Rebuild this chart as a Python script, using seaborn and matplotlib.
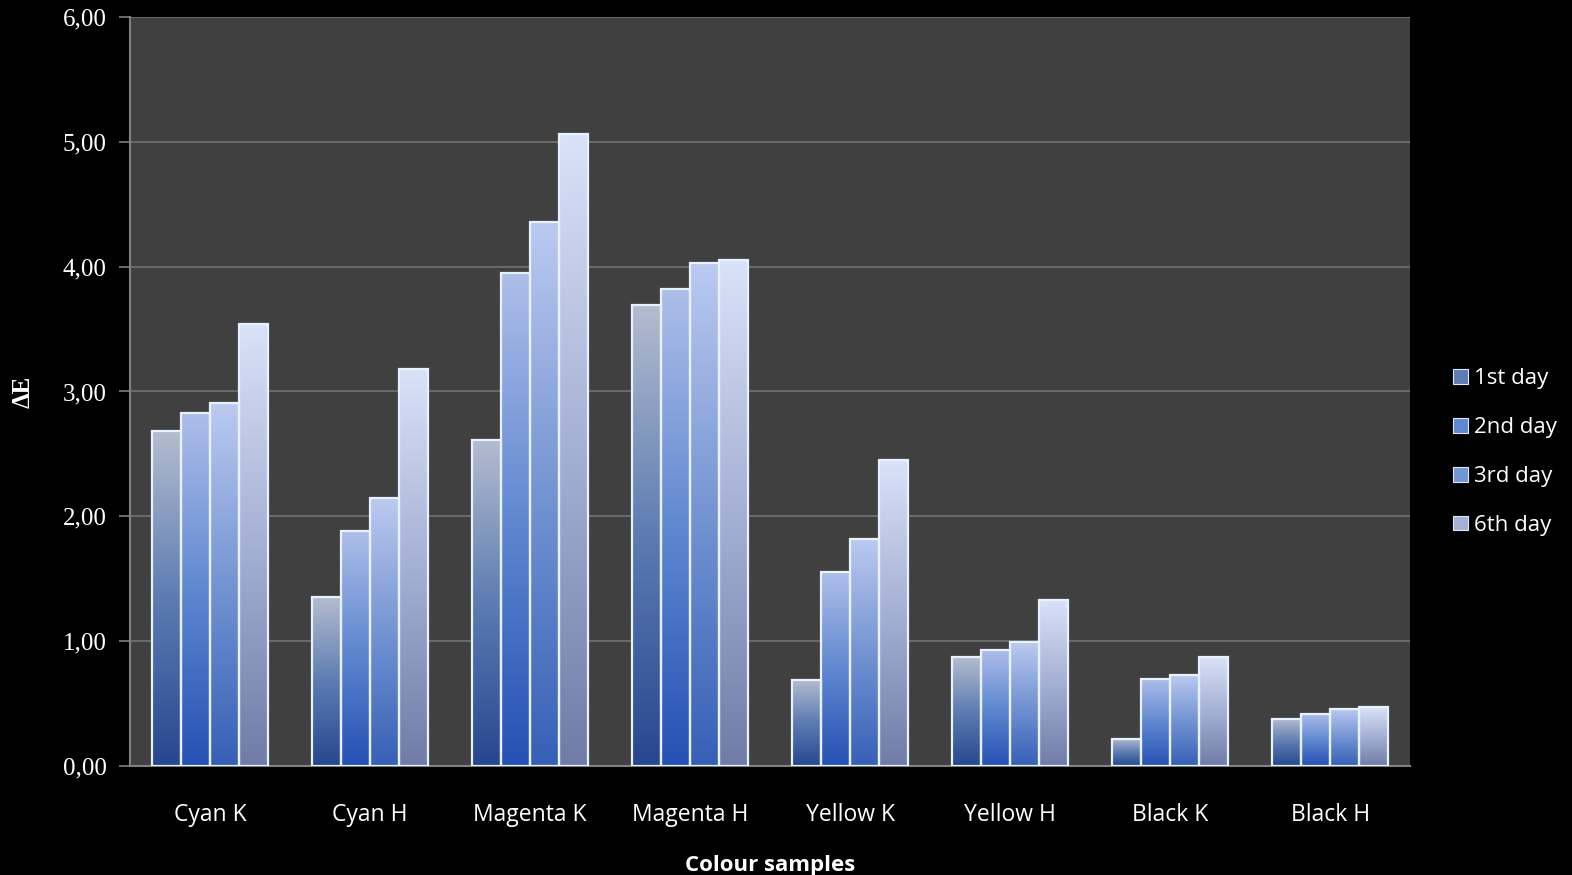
import numpy as np
import pandas as pd
import matplotlib
matplotlib.use("Agg")
import matplotlib.pyplot as plt
import seaborn as sns
from matplotlib.colors import to_rgb

samples = ["Cyan K", "Cyan H", "Magenta K", "Magenta H",
           "Yellow K", "Yellow H", "Black K", "Black H"]
days = ["1st day", "2nd day", "3rd day", "6th day"]
day1 = [2.68, 1.35, 2.61, 3.69, 0.69, 0.87, 0.22, 0.38]
day2 = [2.83, 1.88, 3.95, 3.82, 1.55, 0.93, 0.70, 0.42]
day3 = [2.91, 2.15, 4.36, 4.03, 1.82, 0.99, 0.73, 0.46]
day6 = [3.54, 3.18, 5.06, 4.05, 2.45, 1.33, 0.87, 0.47]
yticks = [0, 1, 2, 3, 4, 5, 6]
ytick_labels = ["0,00", "1,00", "2,00", "3,00", "4,00", "5,00", "6,00"]

# bottom / middle / top shades of each series' vertical gradient
gradients = {
    "1st day": ["#28468e", "#5c7cb2", "#b4bccf"],
    "2nd day": ["#2650b4", "#6088d0", "#aebeea"],
    "3rd day": ["#3660b6", "#7494d2", "#bccaf0"],
    "6th day": ["#707ca6", "#a4b0d4", "#dae2f8"],
}
palette = {d: gradients[d][1] for d in days}

df = pd.DataFrame({
    "sample": samples * 4,
    "day": np.repeat(days, len(samples)),
    "dE": day1 + day2 + day3 + day6,
})

sns.set_theme(style="dark")
plt.rcParams["font.family"] = ["Open Sans", "DejaVu Sans"]

fig = plt.figure(figsize=(15.72, 8.75), dpi=100, facecolor="black")
ax = fig.add_axes([0.0827, 0.1246, 0.8143, 0.856])
ax.set_facecolor("#404040")

sns.barplot(data=df, x="sample", y="dE", hue="day", hue_order=days,
            order=samples, palette=palette, saturation=1, width=0.73,
            ax=ax, zorder=3)


def ramp(stops, n=256):
    cols = np.array([to_rgb(c) for c in stops])
    pos = np.linspace(0, 1, len(stops))
    t = np.linspace(0, 1, n)
    return np.stack([np.interp(t, pos, cols[:, k]) for k in range(3)], axis=-1)


for day, container in zip(days, ax.containers):
    grad = ramp(gradients[day])[:, None, :]
    for bar in container.patches:
        x0 = bar.get_x()
        w = bar.get_width()
        h = bar.get_height()
        ax.imshow(grad, extent=(x0, x0 + w, 0, h), origin="lower",
                  aspect="auto", zorder=3, interpolation="bilinear")
        bar.set_facecolor("none")
        bar.set_edgecolor("#e8f2ff")
        bar.set_linewidth(1.6)
        bar.set_zorder(4)

ax.set_xlim(-0.5, len(samples) - 0.5)
ax.set_ylim(0, 6)
ax.set_yticks(yticks)
ax.set_yticklabels(ytick_labels, family=["Liberation Serif", "DejaVu Serif"],
                   fontsize=18, color="white")
ax.tick_params(axis="y", length=8, width=1.2, color="#808080", pad=9,
               left=True)
ax.tick_params(axis="x", length=0, pad=27, labelsize=16.5, labelcolor="white")

ax.grid(False)
ax.yaxis.grid(True, color="#6e6e6e", linewidth=1.3, zorder=1)
ax.set_axisbelow(True)
for side in ["top", "right"]:
    ax.spines[side].set_visible(False)
for side in ["left", "bottom"]:
    ax.spines[side].set_visible(True)
    ax.spines[side].set_color("#808080")
    ax.spines[side].set_linewidth(1.5)

ax.set_xlabel("Colour samples", fontsize=16, fontweight="bold",
              color="white", labelpad=20)
ax.set_ylabel("ΔE", fontsize=18, fontweight="bold", color="white",
              family=["Liberation Serif", "DejaVu Serif"], labelpad=20)

leg = ax.legend(loc="center left", bbox_to_anchor=(1.018, 0.419),
                frameon=False, fontsize=16, labelcolor="white",
                handlelength=0.65, handleheight=0.65, handletextpad=0.3,
                labelspacing=1.25)
for handle, day in zip(leg.legend_handles, days):
    handle.set_facecolor(gradients[day][1])
    handle.set_edgecolor("#dfe8ff")
    handle.set_linewidth(0.8)

fig.savefig("out.png", dpi=100, facecolor="black")
